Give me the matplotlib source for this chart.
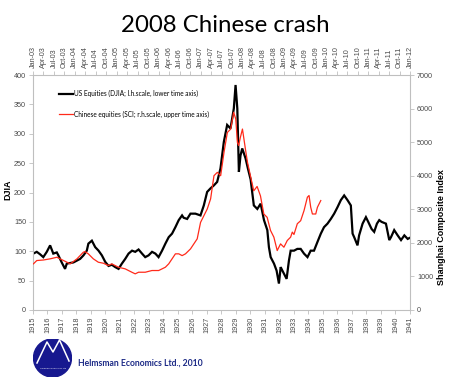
import matplotlib
matplotlib.use("Agg")
import matplotlib.pyplot as plt
import numpy as np
from matplotlib.patches import Circle
from matplotlib.lines import Line2D

# ---------------- data ----------------
# US equities (DJIA), lower time axis (decimal years)
djia_year = [1915.02, 1915.26, 1915.48, 1915.71, 1915.95, 1916.18, 1916.40, 1916.64, 1916.75, 1916.98,
             1917.21, 1917.33, 1917.56, 1917.79, 1918.02, 1918.25, 1918.48, 1918.71, 1918.82, 1919.06,
             1919.29, 1919.52, 1919.75, 1919.98, 1920.21, 1920.44, 1920.67, 1920.90, 1921.13, 1921.36,
             1921.59, 1921.83, 1922.05, 1922.28, 1922.52, 1922.74, 1922.97, 1923.21, 1923.44, 1923.66,
             1923.90, 1924.13, 1924.36, 1924.59, 1924.82, 1925.05, 1925.28, 1925.39, 1925.63, 1925.86,
             1926.20, 1926.55, 1926.78, 1927.01, 1927.24, 1927.47, 1927.70, 1927.93, 1928.16, 1928.39,
             1928.62, 1928.85, 1928.97, 1929.09, 1929.20, 1929.31, 1929.43, 1929.66, 1929.82, 1930.01,
             1930.23, 1930.47, 1930.70, 1930.93, 1931.16, 1931.27, 1931.39, 1931.62, 1931.80, 1931.96,
             1932.08, 1932.20, 1932.49, 1932.65, 1932.77, 1933.00, 1933.23, 1933.46, 1933.69, 1933.93,
             1934.15, 1934.38, 1934.62, 1934.85, 1935.07, 1935.31, 1935.54, 1935.77, 1936.00, 1936.23,
             1936.46, 1936.69, 1936.92, 1937.04, 1937.15, 1937.38, 1937.49, 1937.73, 1937.96, 1938.12,
             1938.35, 1938.53, 1938.72, 1938.88, 1939.04, 1939.34, 1939.57, 1939.69, 1939.91, 1940.15,
             1940.38, 1940.61, 1940.84, 1941.00]
djia_value = [96, 99, 95, 90, 99, 110, 96, 98, 93, 81,
              70, 79, 80, 81, 84, 87, 93, 101, 113, 118,
              107, 101, 93, 82, 75, 77, 73, 70, 79, 87,
              96, 101, 99, 103, 96, 90, 93, 99, 96, 90,
              101, 113, 124, 130, 141, 153, 161, 157, 155, 164,
              164, 161, 178, 201, 207, 212, 218, 241, 286, 315,
              309, 343, 383, 343, 235, 263, 275, 258, 241, 222,
              178, 172, 181, 153, 136, 107, 90, 79, 67, 45,
              73, 67, 53, 84, 101, 101, 104, 104, 96, 90,
              101, 101, 116, 130, 141, 147, 155, 164, 175, 187,
              195, 187, 178, 130, 124, 110, 127, 147, 158, 150,
              138, 133, 147, 153, 150, 147, 119, 124, 136, 127,
              119, 127, 121, 123]

# Chinese equities (Shanghai Composite), upper time axis (decimal years)
sci_year = [2003.01, 2003.09, 2003.25, 2003.41, 2003.57, 2003.73, 2003.89, 2004.05, 2004.20, 2004.24,
            2004.32, 2004.44, 2004.56, 2004.68, 2004.80, 2004.88, 2005.04, 2005.20, 2005.36, 2005.44,
            2005.52, 2005.68, 2005.84, 2006.00, 2006.16, 2006.24, 2006.32, 2006.40, 2006.48, 2006.56,
            2006.64, 2006.76, 2006.92, 2007.00, 2007.08, 2007.16, 2007.24, 2007.32, 2007.40, 2007.48,
            2007.56, 2007.64, 2007.72, 2007.79, 2007.84, 2007.88, 2007.91, 2007.95, 2008.00, 2008.03,
            2008.07, 2008.12, 2008.19, 2008.27, 2008.35, 2008.43, 2008.51, 2008.59, 2008.67, 2008.75,
            2008.83, 2008.91, 2008.99, 2009.07, 2009.15, 2009.19, 2009.23, 2009.31, 2009.39, 2009.47,
            2009.55, 2009.59, 2009.63, 2009.67, 2009.75, 2009.79, 2009.87]
sci_value = [1375, 1473, 1490, 1524, 1571, 1473, 1375, 1524, 1720, 1740,
             1673, 1524, 1423, 1393, 1324, 1375, 1274, 1226, 1125, 1077,
             1125, 1125, 1176, 1176, 1274, 1375, 1524, 1673, 1673, 1620,
             1673, 1820, 2120, 2610, 2810, 3010, 3310, 4000, 4100, 4000,
             4700, 5290, 5390, 5890, 5690, 4990, 4900, 5140, 5390, 5140,
             4800, 4400, 4000, 3550, 3680, 3400, 2860, 2760, 2370, 2170,
             1770, 1970, 1870, 2070, 2170, 2320, 2250, 2570, 2660, 2960,
             3360, 3410, 3060, 2860, 2860, 3060, 3260]

bottom_years = [str(y) for y in range(1915, 1942)]
top_labels = ["Jan-03", "Apr-03", "Jul-03", "Oct-03", "Jan-04", "Apr-04", "Jul-04", "Oct-04",
              "Jan-05", "Apr-05", "Jul-05", "Oct-05", "Jan-06", "Apr-06", "Jul-06", "Oct-06",
              "Jan-07", "Apr-07", "Jul-07", "Oct-07", "Jan-08", "Apr-08", "Jul-08", "Oct-08",
              "Jan-09", "Apr-09", "Jul-09", "Oct-09", "Jan-10", "Apr-10", "Jul-10", "Oct-10",
              "Jan-11", "Apr-11", "Jul-11", "Oct-11", "Jan-12"]
left_ticks = [0, 50, 100, 150, 200, 250, 300, 350, 400]
right_ticks = [0, 1000, 2000, 3000, 4000, 5000, 6000, 7000]

legend_labels = ["US Equities (DJIA; l.h.scale, lower time axis)",
                 "Chinese equities (SCI; r.h.scale, upper time axis)"]

# ---------------- figure ----------------
W, H = 450, 379
fig = plt.figure(figsize=(W / 100, H / 100), dpi=100)
fig.patch.set_facecolor("white")

tick_font = dict(family="Liberation Sans", size=5.2, color="#4a4a4a")
spine_col = "#bfbfbf"
pos = [33 / W, (H - 310) / H, 377 / W, 235 / H]

ax = fig.add_axes(pos)
ax.plot(djia_year, djia_value, color="black", lw=1.6, solid_joinstyle="miter")
ax.set_xlim(1915, 1941)
ax.set_ylim(0, 400)
ax.set_yticks(left_ticks)
ax.set_yticklabels([str(t) for t in left_ticks], fontdict=tick_font)
ax.set_xticks(list(range(1915, 1942)))
ax.set_xticklabels(bottom_years, rotation=90, fontdict=tick_font)
ax.tick_params(axis="both", length=3, width=0.6, color=spine_col, pad=2)
for s in ax.spines.values():
    s.set_color(spine_col)
    s.set_linewidth(0.8)

ax2 = fig.add_axes(pos, frameon=False)
ax2.patch.set_alpha(0)
ax2.plot(sci_year, sci_value, color="#ff2a1a", lw=0.9)
ax2.set_xlim(2003, 2012)
ax2.set_ylim(0, 7000)
ax2.xaxis.tick_top()
ax2.yaxis.tick_right()
ax2.set_xticks(np.linspace(2003, 2012, len(top_labels)))
ax2.set_xticklabels(top_labels, rotation=90, fontdict=tick_font)
ax2.set_yticks(right_ticks)
ax2.set_yticklabels([str(t) for t in right_ticks], fontdict=tick_font)
ax2.tick_params(axis="both", length=3, width=0.6, color=spine_col, pad=2)

# axis titles
fig.text(8 / W, 1 - 190 / H, "DJIA", rotation=90, ha="center", va="center",
         fontsize=6.5, fontweight="bold", family="Liberation Sans")
fig.text(441 / W, 1 - 227 / H, "Shanghai Composite Index", rotation=90, ha="center", va="center",
         fontsize=6.5, fontweight="bold", family="Liberation Sans")

# legend
handles = [Line2D([], [], color="black", lw=1.6), Line2D([], [], color="#ff2a1a", lw=0.9)]
leg = ax.legend(handles, legend_labels, loc="upper left",
                bbox_to_anchor=(56 / W, 1 - 86.5 / H), bbox_transform=fig.transFigure,
                frameon=False, borderpad=0, handlelength=2.05, handletextpad=0.15,
                labelspacing=2.05, prop=dict(family="Lato", size=4.7))

# title
fig.text(0.5, 1 - 26 / H, "2008 Chinese crash", ha="center", va="center",
         fontsize=17.3, family="Lato")

# logo
lax = fig.add_axes([33 / W, (H - 377) / H, 39 / W, 38 / H])
lax.set_xlim(33, 72)
lax.set_ylim(377, 339)
lax.set_aspect("equal")
lax.axis("off")
lax.add_patch(Circle((52.5, 358), 19, color="#17188f"))
lax.plot([37, 47, 53, 59.5, 69], [363, 342, 352, 340, 361], color="white", lw=1.1)
lax.text(52.5, 368, "Helmsman Economics Ltd", color="white", fontsize=1.6,
         ha="center", va="center", family="Liberation Sans")

fig.text(78 / W, 1 - 363 / H, "Helmsman Economics Ltd., 2010", ha="left", va="center",
         fontsize=6.2, fontweight="bold", family="Lato", color="#1c2a86")

fig.savefig("out.png", dpi=100, facecolor="white")
